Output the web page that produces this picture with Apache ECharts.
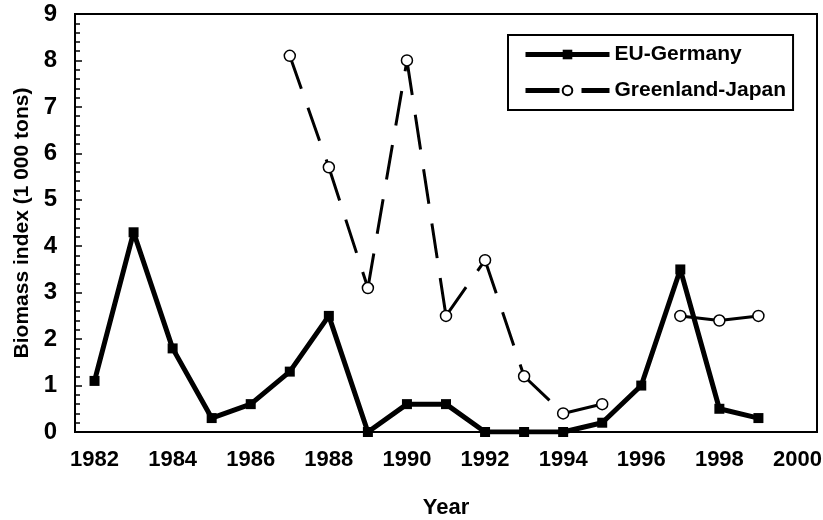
<!DOCTYPE html>
<html>
<head>
<meta charset="utf-8">
<script src="https://cdn.jsdelivr.net/npm/echarts@6/dist/echarts.min.js"></script>
<style>
  html, body { margin: 0; padding: 0; background: #fff; }
  #chart { width: 823px; height: 520px; }
</style>
</head>
<body>
<div id="chart"></div>
<script>
  // years on the category axis
  const years = ['1982', '1983', '1984', '1985', '1986', '1987', '1988', '1989', '1990', '1991',
    '1992', '1993', '1994', '1995', '1996', '1997', '1998', '1999', '2000']
  // biomass index (1 000 tons)
  const euGermany = [1.1, 4.3, 1.8, 0.3, 0.6, 1.3, 2.5, 0, 0.6, 0.6, 0, 0, 0, 0.2, 1.0, 3.5, 0.5, 0.3, null]
  const greenlandJapan = [null, null, null, null, null, 8.1, 5.7, 3.1, 8.0, 2.5, 3.7, 1.2, 0.4, 0.6, null, 2.5, 2.4, 2.5, null]
  const yTicks = [0, 9, 1] // min, max, interval

  const font = 'Arial, "Liberation Sans", sans-serif'

  const chart = echarts.init(document.getElementById('chart'))

  // the dash pattern starts over at every point, so each segment is its own series
  const gjSegments = []
  for (let i = 0; i < greenlandJapan.length - 1; i++) {
    if (greenlandJapan[i] == null || greenlandJapan[i + 1] == null) continue
    gjSegments.push({
      name: 'Greenland-Japan',
      type: 'line',
      symbol: 'none',
      silent: true,
      z: 2,
      data: greenlandJapan.map((v, k) => (k === i || k === i + 1) ? v : null),
      lineStyle: { color: '#000', width: 3, type: [35, 20] }
    })
  }

  chart.setOption({
    backgroundColor: '#fff',
    animation: false,
    grid: {
      left: 75,
      right: 6,
      top: 14,
      bottom: 88,
      containLabel: false,
      outerBoundsMode: 'none',
      show: true,
      borderColor: '#000',
      borderWidth: 2
    },
    legend: {
      orient: 'vertical',
      left: 508,
      top: 35,
      padding: [9, 7, 9, 15],
      borderColor: '#000',
      borderWidth: 2,
      backgroundColor: '#fff',
      itemWidth: 84,
      itemHeight: 12,
      itemGap: 15,
      textStyle: { color: '#000', fontSize: 21, fontWeight: 'bold', fontFamily: font },
      data: [
        {
          name: 'EU-Germany',
          lineStyle: { color: '#000', width: 5, opacity: 1 }
        },
        {
          name: 'Greenland-Japan',
          lineStyle: { color: '#000', width: 5, type: [34, 22], opacity: 1 }
        }
      ]
    },
    xAxis: {
      type: 'category',
      data: years,
      boundaryGap: true,
      name: 'Year',
      nameLocation: 'middle',
      nameGap: 65,
      nameTextStyle: { color: '#000', fontSize: 22, fontWeight: 'bold', fontFamily: font },
      axisLine: { lineStyle: { color: '#000', width: 2 } },
      axisTick: { interval: 0, inside: true, length: 6, lineStyle: { color: '#000', width: 1.5 } },
      axisLabel: { interval: 1, margin: 17, color: '#000', fontSize: 22, fontWeight: 'bold', fontFamily: font },
      splitLine: { show: false }
    },
    yAxis: {
      type: 'value',
      min: yTicks[0],
      max: yTicks[1],
      interval: yTicks[2],
      name: 'Biomass index (1 000 tons)',
      nameLocation: 'middle',
      nameGap: 42,
      nameTextStyle: { color: '#000', fontSize: 21, fontWeight: 'bold', fontFamily: font },
      axisLine: { show: true, lineStyle: { color: '#000', width: 2 } },
      axisTick: { show: true, inside: true, length: 7, lineStyle: { color: '#000', width: 1.5 } },
      minorTick: { show: true, splitNumber: 5, length: 5, lineStyle: { color: '#000', width: 1.5 } },
      axisLabel: { margin: 18, color: '#000', fontSize: 24, fontWeight: 'bold', fontFamily: font },
      splitLine: { show: false }
    },
    series: [
      {
        name: 'EU-Germany',
        type: 'line',
        z: 4,
        data: euGermany,
        symbol: 'rect',
        symbolSize: 10,
        itemStyle: { color: '#000' },
        lineStyle: { color: '#000', width: 5 }
      },
      {
        // circles only, the lines come from gjSegments
        name: 'Greenland-Japan',
        type: 'line',
        z: 3,
        data: greenlandJapan,
        symbol: 'circle',
        symbolSize: 11,
        showAllSymbol: true,
        itemStyle: { color: '#fff', borderColor: '#000', borderWidth: 1.5 },
        lineStyle: { opacity: 0 }
      },
      ...gjSegments
    ]
  })
</script>
</body>
</html>
